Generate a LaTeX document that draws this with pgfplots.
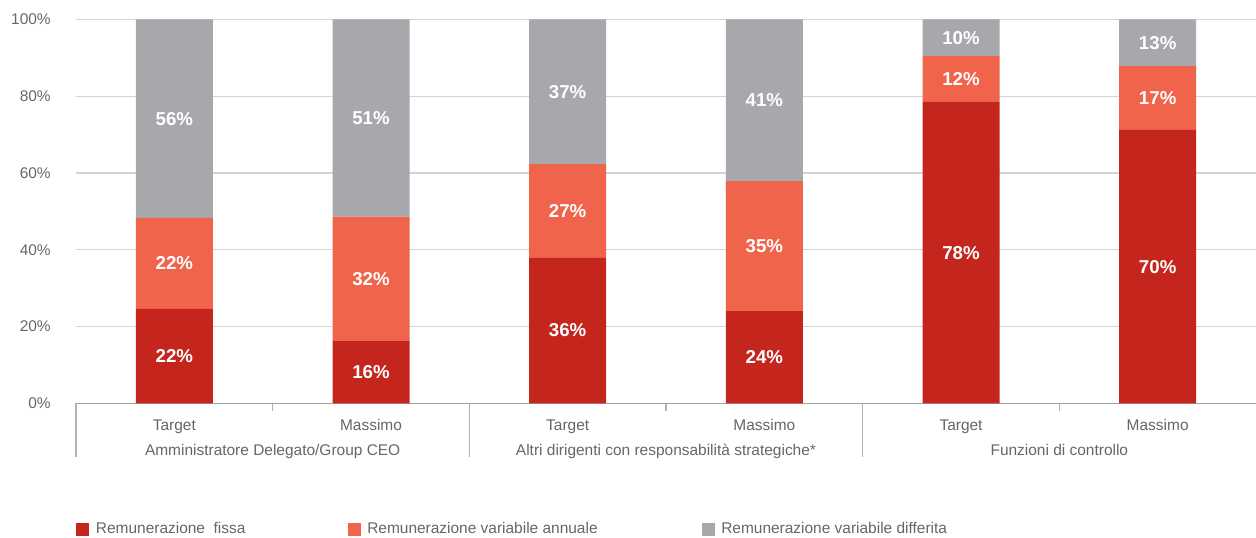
\documentclass[border=0pt]{standalone}
\usepackage{fontspec}
\setmainfont{Liberation Sans}
\usepackage{pgfplots}
\pgfplotsset{compat=1.18}
\definecolor{cRed}{HTML}{C4261E}
\definecolor{cOrange}{HTML}{F0644B}
\definecolor{cGray}{HTML}{A7A8AB}
\definecolor{cText}{HTML}{666666}
\definecolor{cGrid}{HTML}{D4D4D4}
\definecolor{cAxis}{HTML}{A0A0A0}
\begin{document}
\begin{tikzpicture}
\useasboundingbox (-57pt,-100.3pt) rectangle (885pt,302.5pt);
\begin{axis}[
  scale only axis,
  width=885pt, height=288pt,
  xmin=-0.5, xmax=5.5, ymin=0, ymax=100,
  ybar stacked, bar width=57.75pt,
  axis line style={draw=none},
  axis x line*=bottom,
  xtick={0,...,5},
  xticklabels={Target,Massimo,Target,Massimo,Target,Massimo},
  ytick={0,20,40,60,80,100},
  yticklabels={0\%,20\%,40\%,60\%,80\%,100\%},
  major tick length=0pt,
  /pgf/number format/assume math mode=true,
  ymajorgrids, grid style={cGrid, line width=0.9pt},
  tick label style={font=\fontsize{11.6pt}{13pt}\selectfont, text=cText},
  yticklabel style={inner sep=0pt, anchor=east, xshift=-18.75pt},
  xticklabel style={inner sep=0pt, anchor=base, yshift=-20pt},
  legend columns=3,
  legend style={at={(rel axis cs:0,0)}, anchor=west, xshift=0pt, yshift=-94.5pt, draw=none, fill=none, inner sep=0pt,
    font=\fontsize{11.6pt}{13pt}\selectfont, text=cText},
  legend cell align=left,
  legend image code/.code={\fill[#1,draw=none] (0pt,-4.9pt) rectangle (9.75pt,4.9pt);},
  clip=false,
]
\addplot[fill=cRed, draw=none] coordinates {
  (0,24.6) (1,16.2) (2,37.9) (3,24.0) (4,78.5) (5,71.2)};
\addplot[fill=cOrange, draw=none] coordinates {
  (0,23.7) (1,32.4) (2,24.4) (3,33.9) (4,12.0) (5,16.6)};
\addplot[fill=cGray, draw=none] coordinates {
  (0,51.7) (1,51.4) (2,37.7) (3,42.1) (4,9.5) (5,12.2)};
\legend{\makebox[189.75pt][l]{\hspace{3pt}Remunerazione\ \ fissa},\makebox[251.75pt][l]{\hspace{3pt}Remunerazione variabile annuale},\hspace{3pt}Remunerazione variabile differita}
\draw[cAxis, line width=1.2pt] (axis cs:-0.5,0) -- (axis cs:5.5,0);
\draw[cAxis!80, line width=0.9pt] (axis cs:-0.5,0) -- ([yshift=-40pt]axis cs:-0.5,0);
\draw[cAxis!80, line width=0.9pt] (axis cs:1.5,0) -- ([yshift=-40pt]axis cs:1.5,0);
\draw[cAxis!80, line width=0.9pt] (axis cs:3.5,0) -- ([yshift=-40pt]axis cs:3.5,0);
\draw[cAxis!80, line width=0.9pt] (axis cs:0.5,0) -- ([yshift=-5.5pt]axis cs:0.5,0);
\draw[cAxis!80, line width=0.9pt] (axis cs:2.5,0) -- ([yshift=-5.5pt]axis cs:2.5,0);
\draw[cAxis!80, line width=0.9pt] (axis cs:4.5,0) -- ([yshift=-5.5pt]axis cs:4.5,0);
\node[font=\fontsize{11.6pt}{13pt}\selectfont, text=cText, inner sep=0pt, anchor=base] at ([yshift=-39.3pt]axis cs:0.5,0) {Amministratore Delegato/Group CEO};
\node[font=\fontsize{11.6pt}{13pt}\selectfont, text=cText, inner sep=0pt, anchor=base] at ([yshift=-39.3pt]axis cs:2.5,0) {Altri dirigenti con responsabilità strategiche*};
\node[font=\fontsize{11.6pt}{13pt}\selectfont, text=cText, inner sep=0pt, anchor=base] at ([yshift=-39.3pt]axis cs:4.5,0) {Funzioni di controllo};
\end{axis}
\begin{axis}[
  scale only axis,
  width=885pt, height=288pt,
  xmin=-0.5, xmax=5.5, ymin=0, ymax=100,
  hide axis, clip=false,
  nodes near coords,
  point meta=explicit symbolic,
  every node near coord/.append style={anchor=center, inner sep=0pt, text=white, font=\bfseries\fontsize{14pt}{16pt}\selectfont},
]
\addplot[draw=none, mark=none] coordinates {
  (0,12.3) [22\%] (1,8.1) [16\%] (2,18.95) [36\%] (3,12.0) [24\%] (4,39.25) [78\%] (5,35.6) [70\%]};
\addplot[draw=none, mark=none] coordinates {
  (0,36.45) [22\%] (1,32.4) [32\%] (2,50.1) [27\%] (3,40.95) [35\%] (4,84.5) [12\%] (5,79.5) [17\%]};
\addplot[draw=none, mark=none] coordinates {
  (0,74.15) [56\%] (1,74.3) [51\%] (2,81.15) [37\%] (3,78.95) [41\%] (4,95.25) [10\%] (5,93.9) [13\%]};
\end{axis}
\end{tikzpicture}
\end{document}
